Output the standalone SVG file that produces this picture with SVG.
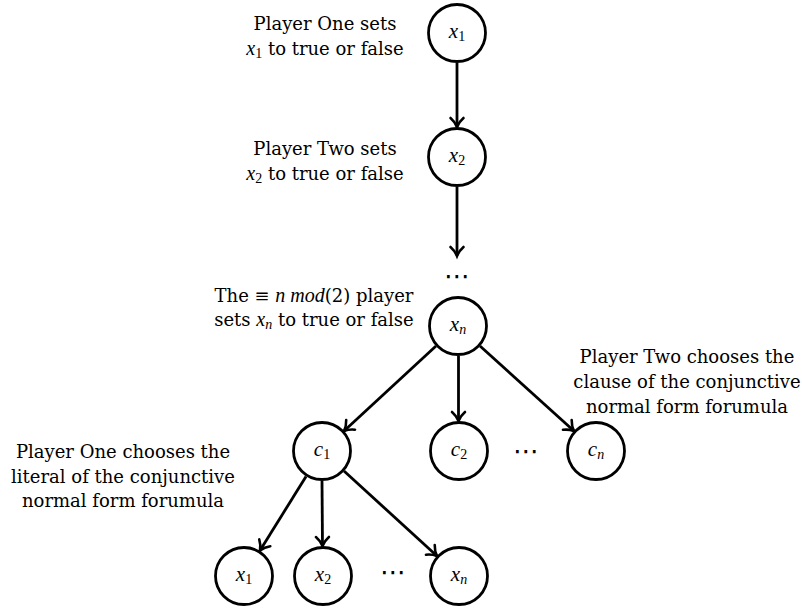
<svg xmlns="http://www.w3.org/2000/svg" width="802" height="611" viewBox="0 0 802 611">
<defs>
<marker id="arr" markerUnits="userSpaceOnUse" markerWidth="20" markerHeight="20" viewBox="-12 -10 14 20" refX="0" refY="0" orient="auto">
<path d="M-9,-6.5 C-6,-3 -2,-0.8 0,0 C-2,0.8 -6,3 -9,6.5" fill="none" stroke="#000" stroke-width="2.6" stroke-linecap="round"/>
</marker>
</defs>
<style>
.n circle{fill:#fff;stroke:#000;stroke-width:2.8}
.lbl{font-family:"DejaVu Serif","Liberation Serif",serif;font-size:18px;fill:#000;text-anchor:middle}
.m{font-family:"Liberation Serif",serif;font-size:21px;fill:#000;text-anchor:middle}
.mi{font-family:"Liberation Serif",serif;font-style:italic}
.sub{font-family:"Liberation Serif",serif;font-style:normal;font-size:14px}
.subi{font-family:"Liberation Serif",serif;font-style:italic;font-size:14px}
.e line{stroke:#000;stroke-width:2.8;marker-end:url(#arr)}
.dots{font-family:"DejaVu Sans",sans-serif;font-size:26px;text-anchor:middle;fill:#000}
</style>
<rect width="802" height="611" fill="#fff"/>
<g id="edges" class="e">
<line x1="457" y1="63" x2="457" y2="127"/>
<line x1="457" y1="187" x2="457" y2="256"/>
<line x1="436" y1="346" x2="344" y2="431"/>
<line x1="458.5" y1="356" x2="458.5" y2="421"/>
<line x1="480" y1="346" x2="574" y2="431"/>
<line x1="306" y1="476.5" x2="260" y2="550.5"/>
<line x1="322" y1="481" x2="322.5" y2="546"/>
<line x1="344" y1="471" x2="437" y2="556"/>
</g>
<g id="n_x1" class="n"><circle cx="457" cy="33" r="28.5"/><text class="m" x="457" y="38"><tspan class="mi">x</tspan><tspan class="sub" dy="3">1</tspan></text></g>
<g id="n_x2" class="n"><circle cx="457" cy="157" r="28.5"/><text class="m" x="457" y="162"><tspan class="mi">x</tspan><tspan class="sub" dy="3">2</tspan></text></g>
<g id="n_dots1"><text class="dots" x="457" y="285">⋯</text></g>
<g id="n_xn" class="n"><circle cx="458" cy="326" r="28.5"/><text class="m" x="458" y="331"><tspan class="mi">x</tspan><tspan class="subi" dy="3">n</tspan></text></g>
<g id="n_c1" class="n"><circle cx="322" cy="451" r="28.5"/><text class="m" x="322" y="456"><tspan class="mi">c</tspan><tspan class="sub" dy="3">1</tspan></text></g>
<g id="n_c2" class="n"><circle cx="459" cy="451" r="28.5"/><text class="m" x="459" y="456"><tspan class="mi">c</tspan><tspan class="sub" dy="3">2</tspan></text></g>
<g id="n_dots2"><text class="dots" x="526" y="460">⋯</text></g>
<g id="n_cn" class="n"><circle cx="596" cy="451" r="28.5"/><text class="m" x="596" y="456"><tspan class="mi">c</tspan><tspan class="subi" dy="3">n</tspan></text></g>
<g id="n_bx1" class="n"><circle cx="244" cy="576" r="28.5"/><text class="m" x="244" y="581"><tspan class="mi">x</tspan><tspan class="sub" dy="3">1</tspan></text></g>
<g id="n_bx2" class="n"><circle cx="323" cy="576" r="28.5"/><text class="m" x="323" y="581"><tspan class="mi">x</tspan><tspan class="sub" dy="3">2</tspan></text></g>
<g id="n_dots3"><text class="dots" x="393" y="581">⋯</text></g>
<g id="n_bxn" class="n"><circle cx="459" cy="576" r="28.5"/><text class="m" x="459" y="581"><tspan class="mi">x</tspan><tspan class="subi" dy="3">n</tspan></text></g>
<g id="labels">
<text class="lbl" x="325" y="30">Player One sets</text>
<text class="lbl" x="325" y="55"><tspan class="mi" font-size="20">x</tspan><tspan class="sub" dy="3">1</tspan><tspan dy="-3"> to true or false</tspan></text>
<text class="lbl" x="325" y="155">Player Two sets</text>
<text class="lbl" x="325" y="180"><tspan class="mi" font-size="20">x</tspan><tspan class="sub" dy="3">2</tspan><tspan dy="-3"> to true or false</tspan></text>
<text class="lbl" x="314" y="302">The ≡ <tspan class="mi" font-size="20">n mod</tspan>(2) player</text>
<text class="lbl" x="314" y="326">sets <tspan class="mi" font-size="20">x</tspan><tspan class="subi" dy="3">n</tspan><tspan dy="-3"> to true or false</tspan></text>
<text class="lbl" x="123" y="458">Player One chooses the</text>
<text class="lbl" x="123" y="483">literal of the conjunctive</text>
<text class="lbl" x="123" y="507">normal form forumula</text>
<text class="lbl" x="687" y="363">Player Two chooses the</text>
<text class="lbl" x="687" y="388">clause of the conjunctive</text>
<text class="lbl" x="687" y="413">normal form forumula</text>
</g>
</svg>
